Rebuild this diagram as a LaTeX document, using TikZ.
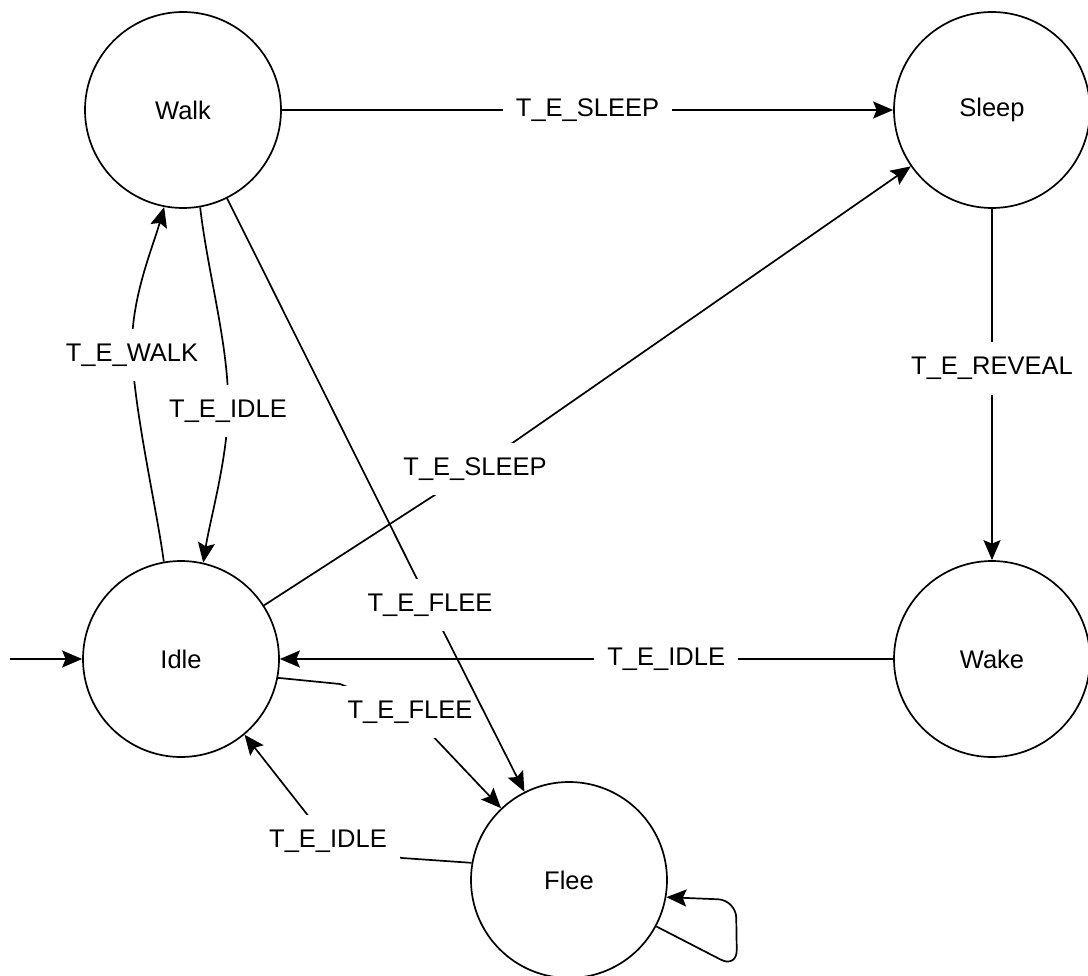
\documentclass[tikz,border=0pt]{standalone}
\usepackage{fontspec}
\setmainfont{Liberation Sans}
\usetikzlibrary{arrows.meta}
\begin{document}
\begin{tikzpicture}[x=1pt,y=-1pt,
  every node/.style={font=\fontsize{25.5}{30}\selectfont},
  state/.style={circle,draw,line width=1.7pt,minimum size=196pt,inner sep=0pt,fill=white},
  lbl/.style={fill=white,inner xsep=13pt,inner ysep=15pt},
  edge/.style={line width=1.7pt,-{Stealth[length=20pt,width=17pt,inset=3.5pt]}}]
\useasboundingbox (0,0) rectangle (1088,976);

% states
\node[state] (walk)  at (183,110) {Walk};
\node[state] (sleep) at (992,110) {Sleep};
\node[state] (idle)  at (181,659) {Idle};
\node[state] (wake)  at (992,659) {Wake};
\node[state] (flee)  at (569,880) {Flee};

% label positions and waypoints
\coordinate (init) at (10,659);
\coordinate (cIS) at (475,469);
\coordinate (cWF) at (430,605);
\coordinate (wIF) at (340,684);
\coordinate (cIF) at (410,712);
\coordinate (wFI) at (402,858);
\coordinate (cFI) at (328,841);
\coordinate (cWI) at (228,411);
\coordinate (cIW) at (132,355);
\coordinate (lpA) at (737,968);
\coordinate (lpB) at (736,900);

% initial transition
\draw[edge] (init) -- (idle);

% straight transitions
\draw[edge] (walk) -- node[lbl]{T\_E\_SLEEP} (sleep);
\draw[edge] (sleep) -- node[lbl,pos=0.455]{T\_E\_REVEAL} (wake);
\draw[edge] (wake) -- node[lbl,pos=0.37]{T\_E\_IDLE} (idle);
\draw[edge] (idle) -- (cIS) node[lbl]{T\_E\_SLEEP} -- (sleep);

% Idle <-> Flee
\draw[edge] (idle.-11) -- (wIF) -- (cIF) node[lbl]{T\_E\_FLEE} -- (flee);
\draw[edge] (flee.170) -- (wFI) -- (cFI) node[lbl]{T\_E\_IDLE} -- (idle.-50);

% Walk -> Flee
\draw[edge] (walk) -- (cWF) node[lbl]{T\_E\_FLEE} -- (flee);

% Walk <-> Idle
\draw[edge] (walk.-80) .. controls (208,275) and (230,350) .. (cWI)
  node[lbl]{T\_E\_IDLE} .. controls (227,460) and (210,520) .. (idle.77);
\draw[edge] (idle.100) .. controls (156,505) and (136,420) .. (cIW)
  node[lbl]{T\_E\_WALK} .. controls (130,300) and (152,250) .. (walk.-101);

% Flee self loop
\draw[edge,rounded corners=18pt] (flee.-28) -- (lpA) -- (lpB) -- (flee.-10);
\end{tikzpicture}
\end{document}
